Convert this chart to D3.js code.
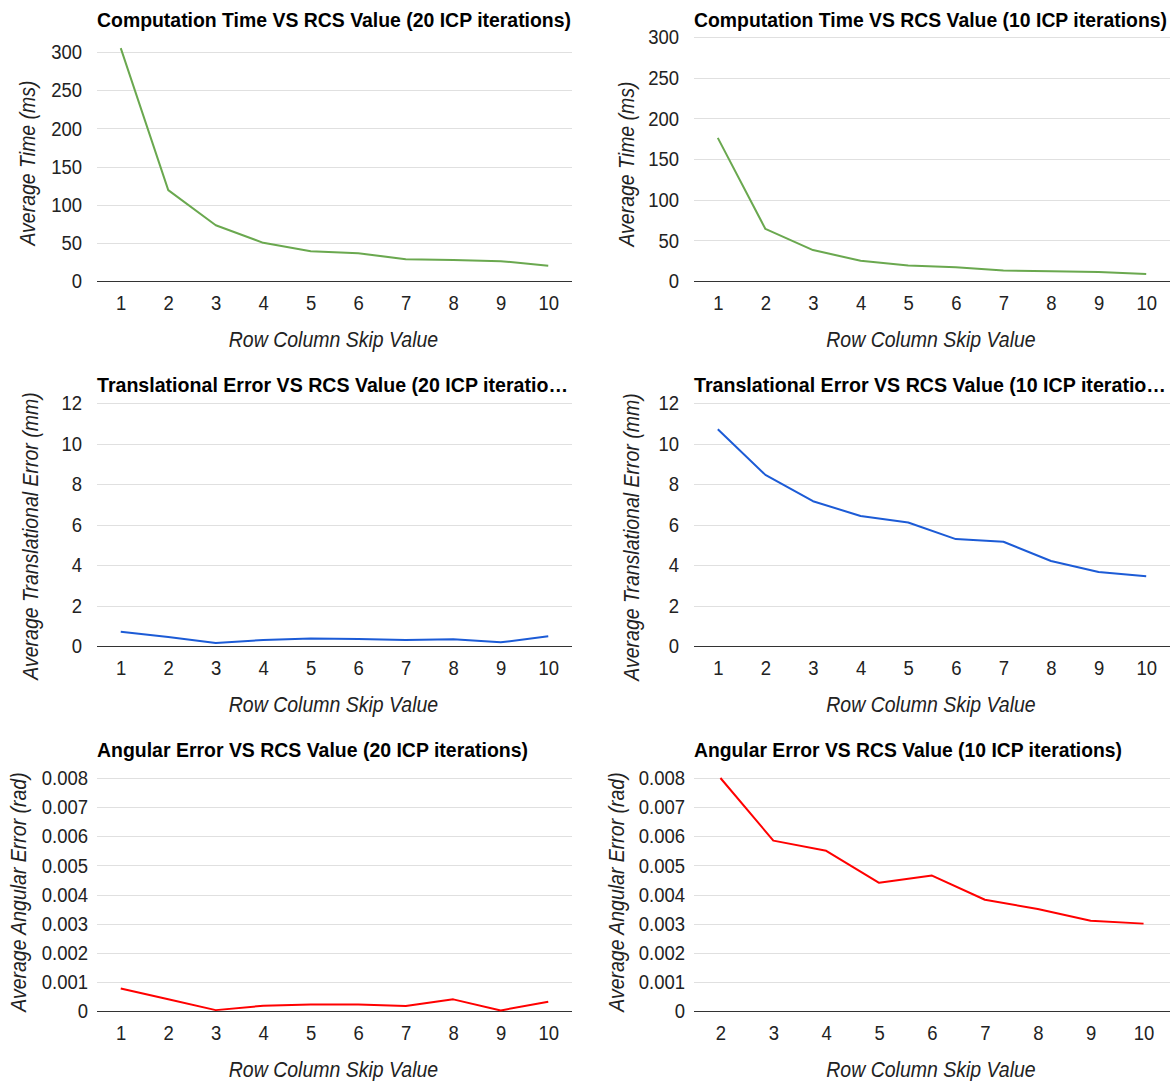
<!DOCTYPE html>
<html>
<head>
<meta charset="utf-8">
<script src="https://cdn.jsdelivr.net/npm/d3@7"></script>
<style>
  body { margin: 0; background: #fff; }
  text { font-family: "Liberation Sans", Arial, sans-serif; }
</style>
</head>
<body>
<div id="chart"></div>
<script>
// ---- data ----
const rcsAll = [1, 2, 3, 4, 5, 6, 7, 8, 9, 10];
const rcsFrom2 = [2, 3, 4, 5, 6, 7, 8, 9, 10];

const time20 = [305, 119, 73, 50, 39, 36.5, 28.5, 27.5, 26, 20];
const time10 = [176, 64, 38, 25, 19, 17, 13, 12, 11, 8.5];
const trans20 = [0.7, 0.45, 0.15, 0.3, 0.37, 0.35, 0.3, 0.33, 0.18, 0.48];
const trans10 = [10.7, 8.45, 7.15, 6.42, 6.1, 5.28, 5.15, 4.2, 3.65, 3.45];
const ang20 = [0.00077, 0.0004, 0.00003, 0.00018, 0.00022, 0.00022, 0.00017, 0.0004, 0.00002, 0.00032];
const ang10 = [0.008, 0.00585, 0.0055, 0.0044, 0.00465, 0.00382, 0.0035, 0.0031, 0.003];

const timeTicks = [0, 50, 100, 150, 200, 250, 300];
const transTicks = [0, 2, 4, 6, 8, 10, 12];
const angTicks = [0, 0.001, 0.002, 0.003, 0.004, 0.005, 0.006, 0.007, 0.008];

const xTitle = "Row Column Skip Value";

const width = 1174;
const height = 1081;
const stretch = 1.1; // text in the reference is a bit taller than wide

const svg = d3.select("#chart")
  .append("svg")
  .attr("width", width)
  .attr("height", height);

// panel layout
const panels = [
  { title: "Computation Time VS RCS Value (20 ICP iterations)", titleW: 474,
    yTitle: "Average Time (ms)", cats: rcsAll, values: time20, ticks: timeTicks,
    color: "#6aa84f", x0: 97, x1: 572, top: 52, bottom: 281, titleY: 26,
    labelGap: 15, yTitleX: 27, yTitleY: 163 },
  { title: "Computation Time VS RCS Value (10 ICP iterations)", titleW: 473,
    yTitle: "Average Time (ms)", cats: rcsAll, values: time10, ticks: timeTicks,
    color: "#6aa84f", x0: 694, x1: 1170, top: 37, bottom: 281, titleY: 26,
    labelGap: 15, yTitleX: 626, yTitleY: 164 },
  { title: "Translational Error VS RCS Value (20 ICP iteratio…", titleW: 471,
    yTitle: "Average Translational Error (mm)", cats: rcsAll, values: trans20, ticks: transTicks,
    color: "#1c5bd6", x0: 97, x1: 572, top: 403, bottom: 646, titleY: 391,
    labelGap: 15, yTitleX: 30, yTitleY: 536 },
  { title: "Translational Error VS RCS Value (10 ICP iteratio…", titleW: 472,
    yTitle: "Average Translational Error (mm)", cats: rcsAll, values: trans10, ticks: transTicks,
    color: "#1c5bd6", x0: 694, x1: 1170, top: 403, bottom: 646, titleY: 391,
    labelGap: 15, yTitleX: 631, yTitleY: 537 },
  { title: "Angular Error VS RCS Value (20 ICP iterations)", titleW: 431,
    yTitle: "Average Angular Error (rad)", cats: rcsAll, values: ang20, ticks: angTicks,
    color: "#ff0000", x0: 97, x1: 572, top: 778, bottom: 1011, titleY: 756,
    labelGap: 9, yTitleX: 18, yTitleY: 892 },
  { title: "Angular Error VS RCS Value (10 ICP iterations)", titleW: 428,
    yTitle: "Average Angular Error (rad)", cats: rcsFrom2, values: ang10, ticks: angTicks,
    color: "#ff0000", x0: 694, x1: 1170, top: 778, bottom: 1011, titleY: 756,
    labelGap: 9, yTitleX: 616, yTitleY: 892 }
];

panels.forEach(p => {
  const g = svg.append("g");

  const x = d3.scalePoint().domain(p.cats).range([p.x0, p.x1]).padding(0.5);
  const y = d3.scaleLinear().domain(d3.extent(p.ticks)).range([p.bottom, p.top]);

  // gridlines
  g.append("g")
    .selectAll("line")
    .data(p.ticks.slice(1))
    .join("line")
    .attr("x1", p.x0)
    .attr("x2", p.x1)
    .attr("y1", d => Math.round(y(d)) + 0.5)
    .attr("y2", d => Math.round(y(d)) + 0.5)
    .attr("stroke", "#e0e0e0")
    .attr("stroke-width", 1);

  // y tick labels
  const yAxis = g.append("g")
    .attr("transform", `translate(${p.x0 - p.labelGap},0)`)
    .call(d3.axisLeft(y).tickValues(p.ticks).tickSize(0).tickPadding(0)
      .tickFormat(d => d === 0 ? "0" : d3.format("~g")(d)));
  yAxis.select(".domain").remove();
  yAxis.selectAll("text")
    .attr("fill", "#222")
    .style("font-size", "18.5px")
    .attr("dy", "0.33em")
    .attr("transform", `scale(1,${stretch})`);

  // x tick labels
  const xAxis = g.append("g")
    .attr("transform", `translate(0,${p.bottom})`)
    .call(d3.axisBottom(x).tickSize(0).tickPadding(0));
  xAxis.select(".domain").remove();
  xAxis.selectAll("text")
    .attr("fill", "#222")
    .style("font-size", "18.5px")
    .attr("y", 29.5 / stretch)
    .attr("dy", 0)
    .attr("transform", `scale(1,${stretch})`);

  // baseline
  g.append("line")
    .attr("x1", p.x0)
    .attr("x2", p.x1)
    .attr("y1", Math.round(y(0)) + 0.5)
    .attr("y2", Math.round(y(0)) + 0.5)
    .attr("stroke", "#333")
    .attr("stroke-width", 1);

  // series line
  const line = d3.line()
    .x((d, i) => x(p.cats[i]))
    .y(d => y(d));

  g.append("path")
    .datum(p.values)
    .attr("d", line)
    .attr("fill", "none")
    .attr("stroke", p.color)
    .attr("stroke-width", 2)
    .attr("stroke-linejoin", "round");

  // chart title
  g.append("text")
    .attr("transform", `translate(${p.x0},${p.titleY + 0.5}) scale(1,${stretch})`)
    .attr("textLength", p.titleW)
    .attr("lengthAdjust", "spacingAndGlyphs")
    .style("font-size", "18px")
    .style("font-weight", "bold")
    .attr("fill", "#000")
    .text(p.title);

  // x axis title
  g.append("text")
    .attr("transform", `translate(${(p.x0 + p.x1) / 2 - 1},${p.bottom + 65.5}) scale(1,${stretch})`)
    .attr("text-anchor", "middle")
    .style("font-size", "19.5px")
    .style("font-style", "italic")
    .attr("fill", "#222")
    .text(xTitle);

  // y axis title
  g.append("text")
    .attr("transform", `translate(${p.yTitleX + 7.5},${p.yTitleY}) rotate(-90) scale(1,${stretch})`)
    .attr("text-anchor", "middle")
    .style("font-size", "19.5px")
    .style("font-style", "italic")
    .attr("fill", "#222")
    .text(p.yTitle);
});
</script>
</body>
</html>
